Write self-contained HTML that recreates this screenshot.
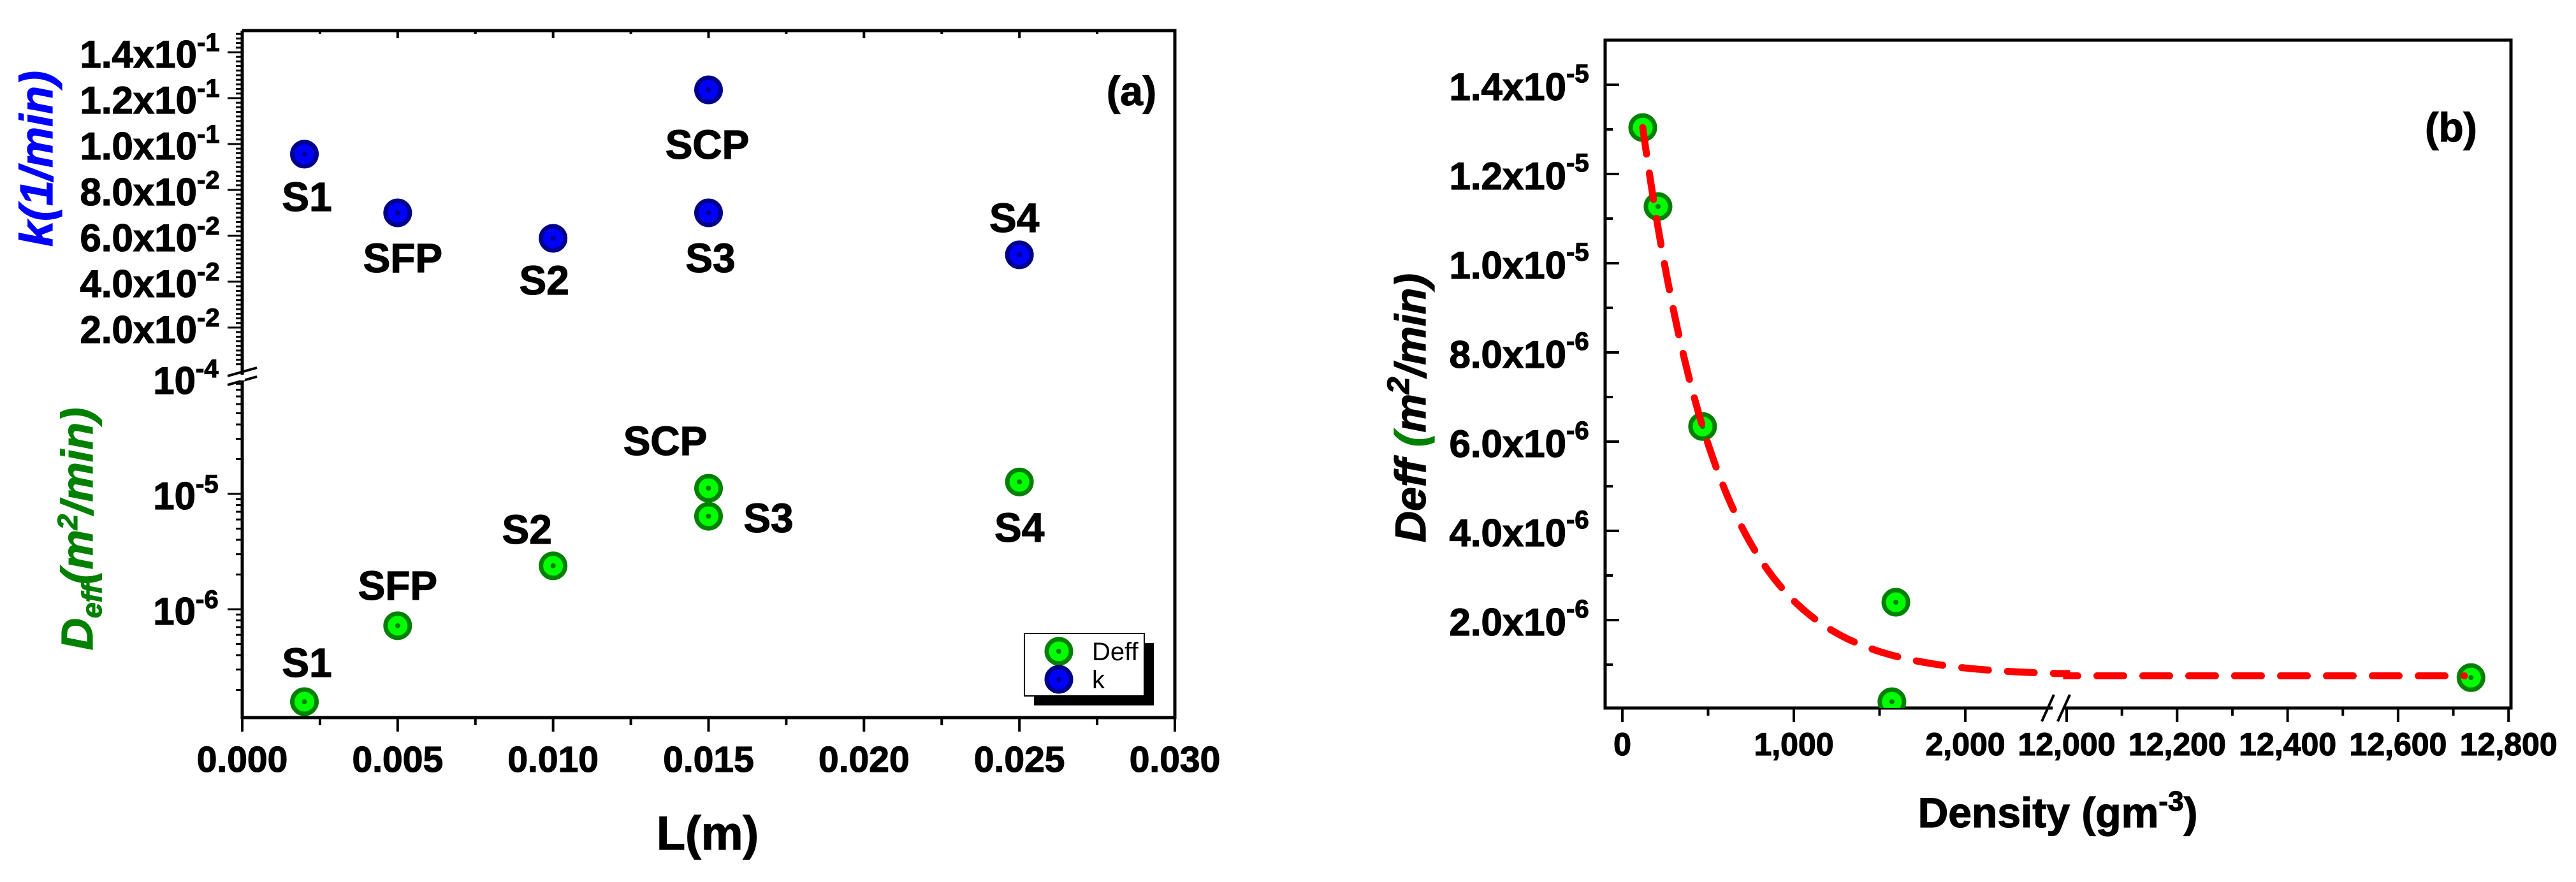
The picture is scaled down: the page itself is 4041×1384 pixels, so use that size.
<!DOCTYPE html>
<html><head><meta charset="utf-8"><style>
body{margin:0;background:#fff}
svg{display:block}
text{font-family:"Liberation Sans",sans-serif;font-weight:bold;fill:#000;stroke:#000;stroke-width:1.2}
</style></head><body>
<svg id="chart" width="4041" height="1384" viewBox="0 0 4041 1384" xmlns="http://www.w3.org/2000/svg">
<defs>
<clipPath id="clipB"><rect x="2518" y="63" width="1421" height="1048"/></clipPath>
</defs>
<g id="pa"></g>
<g id="pb"></g>
</svg>
<script>
// Panel (a) data
const aLengths = [0.002, 0.005, 0.010, 0.015, 0.015, 0.025];
const aSamples = ["S1", "SFP", "S2", "SCP", "S3", "S4"];
const aK = [0.0956, 0.070, 0.0589, 0.1236, 0.070, 0.0517];
const aDeff = [1.58e-7, 7.2e-7, 2.38e-6, 1.12e-5, 6.4e-6, 1.27e-5];
const aXTicks = [0, 0.005, 0.010, 0.015, 0.020, 0.025, 0.030];
const aXTickLabels = ["0.000", "0.005", "0.010", "0.015", "0.020", "0.025", "0.030"];
const aKTicks = [0.02, 0.04, 0.06, 0.08, 0.10, 0.12, 0.14];
const aKTickLabels = ["2.0x10", "4.0x10", "6.0x10", "8.0x10", "1.0x10", "1.2x10", "1.4x10"];
const aKTickExp = ["-2", "-2", "-2", "-2", "-1", "-1", "-1"];
const aDTicks = [1e-4, 1e-5, 1e-6];
const aDTickExp = ["-4", "-5", "-6"];
// label offsets (px) relative to marks
const aKLabelOff = [[4, 67], [8, 71], [-14, 66], [-2, 86], [3, 71], [-8, -58]];
const aDLabelOff = [[4, -61], [0, -63], [-41, -57], [-68, -74], [94, 3], [0, 72]];

// Panel (b) data
const bDensity = [119, 208, 468, 1595, 1572, 12732];
const bDeff = [13.04e-6, 11.27e-6, 6.34e-6, 2.4e-6, 0.17e-6, 0.71e-6];
const bXTicksLeft = [0, 1000, 2000];
const bXTicksRight = [12000, 12200, 12400, 12600, 12800];
const bXTickLabelsLeft = ["0", "1,000", "2,000"];
const bXTickLabelsRight = ["12,000", "12,200", "12,400", "12,600", "12,800"];
const bYTicks = [2e-6, 4e-6, 6e-6, 8e-6, 10e-6, 12e-6, 14e-6];
const bYTickLabels = ["2.0x10", "4.0x10", "6.0x10", "8.0x10", "1.0x10", "1.2x10", "1.4x10"];
const bYTickExp = ["-6", "-6", "-6", "-6", "-5", "-5", "-5"];
// exponential fit: offset, amplitude, decay, start, end (left), right segment end
const bFitParams = [0.75e-6, 12.29e-6, 443, 119, 2539, 12732];

const NS = "http://www.w3.org/2000/svg";
function mk(parent, tag, attrs, name) {
  const e = document.createElementNS(NS, tag);
  for (const k in attrs) e.setAttribute(k, attrs[k]);
  
  
  parent.appendChild(e);
  return e;
}
function txt(parent, x, y, s, size, name, anchor, extra, rot) {
  const tr = rot ? `translate(${x},${y}) rotate(-90)` : `translate(${x},${y})`;
  const t = mk(parent, 'text', Object.assign({x: 0, y: 0, transform: tr, 'font-size': size, 'text-anchor': anchor || 'middle'}, extra || {}), name);
  t.textContent = s;
  return t;
}
function marker(parent, cx, cy, green, name) {
  const g = mk(parent, 'g', {}, name);
  mk(g, 'circle', {cx: cx, cy: cy, r: 19, fill: green ? '#00ff00' : '#0000ff', stroke: green ? '#008000' : '#00008b', 'stroke-width': 7}, 'marker-ring');
  mk(g, 'circle', {cx: cx, cy: cy, r: 4, fill: green ? '#008000' : '#00008b'}, 'marker-center');
  return g;
}

// ---------- Panel A ----------
const pa = document.getElementById('pa');
const AL = 380, AR = 1843, AT = 48, AB = 1126;
const xa = v => AL + v / 0.03 * (AR - AL);
const yk = v => 586 - v * 3600;
const yd = v => 956 - (Math.log10(v) + 6) * 181;

mk(pa, 'path', {d: `M${AL},${AT} H${AR} V${AB} H${AL} V598 M${AL},588 V${AT}`, fill: 'none', stroke: '#000', 'stroke-width': 5}, 'axis-frame-a');
for (let i = 0; i <= 12; i++) {
  const v = i * 0.0025, x = xa(v), maj = i % 2 === 0;
  mk(pa, 'line', {x1: x, y1: AB, x2: x, y2: AB + (maj ? 22 : 12), stroke: '#000', 'stroke-width': 4}, 'x-tick-a');
  mk(pa, 'line', {x1: x, y1: AT, x2: x, y2: AT + (maj ? 12 : 5), stroke: '#000', 'stroke-width': 4}, 'x-tick-top-a');
}
aXTicks.forEach((v, i) => txt(pa, xa(v), 1211, aXTickLabels[i], 57, 'x-tick-label-a'));
txt(pa, 1110, 1333, 'L(m)', 74, 'x-axis-title-a');
for (let i = 2; i <= 75; i++) {
  const v = i * 0.002, y = yk(v), maj = i % 10 === 0;
  if (y < AT) continue;
  mk(pa, 'line', {x1: AL, y1: y, x2: AL - (maj ? 23 : 10), y2: y, stroke: '#000', 'stroke-width': 3}, 'k-tick');
}
aKTicks.forEach((v, i) => {
  txt(pa, 309, yk(v) + 24, aKTickLabels[i], 60, 'k-tick-label', 'end');
  txt(pa, 309, yk(v) - 2, aKTickExp[i], 40, 'k-tick-exponent', 'start');
});
for (let e = -7; e <= -4; e++) {
  for (let m = 1; m <= 9; m++) {
    const v = m * Math.pow(10, e), y = yd(v);
    if (y > AB || y < 600) continue;
    mk(pa, 'line', {x1: AL, y1: y, x2: AL - (m === 1 ? 23 : 10), y2: y, stroke: '#000', 'stroke-width': 3}, 'deff-tick');
  }
}
aDTicks.forEach((v, i) => {
  txt(pa, 307, yd(v) + 24, '10', 60, 'deff-tick-label', 'end');
  txt(pa, 307, yd(v) - 2, aDTickExp[i], 40, 'deff-tick-exponent', 'start');
});
mk(pa, 'path', {d: 'M357,590 L403,577 M357,604 L403,591', stroke: '#000', 'stroke-width': 4, fill: 'none'}, 'y-axis-break-a');
mk(pa, 'rect', {x: 377, y: 588, width: 7, height: 9, fill: '#fff'}, 'break-gap');
txt(pa, 82, 249, 'k(1/min)', 72, 'k-axis-title', 'middle', {'font-style': 'italic', style: 'fill:#0000ff;stroke:#0000ff'}, true);
const dt = txt(pa, 145, 830, '', 70, 'deff-axis-title', 'middle', {'font-style': 'italic', style: 'fill:#008000;stroke:#008000'}, true);
dt.innerHTML = 'D<tspan font-size="44" dy="14">eff</tspan><tspan dy="-14">(m</tspan><tspan font-size="44" dy="-24">2</tspan><tspan dy="24">/min)</tspan>';
aLengths.forEach((L, i) => {
  marker(pa, xa(L), yk(aK[i]), false, 'k-point-' + aSamples[i]);
  txt(pa, xa(L) + aKLabelOff[i][0], yk(aK[i]) + aKLabelOff[i][1] + 22, aSamples[i], 64, 'k-label-' + aSamples[i]);
  marker(pa, xa(L), yd(aDeff[i]), true, 'deff-point-' + aSamples[i]);
  txt(pa, xa(L) + aDLabelOff[i][0], yd(aDeff[i]) + aDLabelOff[i][1] + 22, aSamples[i], 64, 'deff-label-' + aSamples[i]);
});
txt(pa, 1775, 165, '(a)', 64, 'panel-label-a');
const lg = mk(pa, 'g', {}, 'legend');
mk(lg, 'rect', {x: 1622, y: 1009, width: 188, height: 98, fill: '#000'}, 'legend-shadow');
mk(lg, 'rect', {x: 1607, y: 994, width: 188, height: 98, fill: '#fff', stroke: '#000', 'stroke-width': 2}, 'legend-box');
marker(lg, 1661, 1022, true, 'legend-marker-deff');
marker(lg, 1661, 1066, false, 'legend-marker-k');
txt(lg, 1713, 1036, 'Deff', 40, 'legend-entry-deff', 'start', {style: 'font-weight:normal;stroke:none'});
txt(lg, 1713, 1080, 'k', 40, 'legend-entry-k', 'start', {style: 'font-weight:normal;stroke:none'});

// ---------- Panel B ----------
const pb = document.getElementById('pb');
const BL = 2518, BR = 3939, BT = 63, BB = 1111;
const xb = v => v <= 2600 ? 2545 + v * 0.269 : 3242 + (v - 12000) * 0.8665;
const yb = v => 1113 - v / 1e-6 * 70;
mk(pb, 'rect', {x: BL, y: BT, width: BR - BL, height: BB - BT, fill: 'none', stroke: '#000', 'stroke-width': 5}, 'axis-frame-b');
for (let i = 1; i <= 15; i++) {
  const y = yb(i * 1e-6), maj = i % 2 === 0;
  mk(pb, 'line', {x1: BL, y1: y, x2: BL + (maj ? 22 : 12), y2: y, stroke: '#000', 'stroke-width': 4}, 'y-tick-b');
}
bYTicks.forEach((v, i) => {
  txt(pb, 2457, yb(v) + 24, bYTickLabels[i], 60, 'y-tick-label-b', 'end');
  txt(pb, 2457, yb(v) - 4, bYTickExp[i], 40, 'y-tick-exponent-b', 'start');
});
for (let v = 0; v <= 2000; v += 500) {
  mk(pb, 'line', {x1: xb(v), y1: BB, x2: xb(v), y2: BB + (v % 1000 === 0 ? 22 : 12), stroke: '#000', 'stroke-width': 4}, 'x-tick-b');
}
for (let v = 12000; v <= 12800; v += 100) {
  mk(pb, 'line', {x1: xb(v), y1: BB, x2: xb(v), y2: BB + (v % 200 === 0 ? 22 : 12), stroke: '#000', 'stroke-width': 4}, 'x-tick-b');
}
bXTicksLeft.forEach((v, i) => txt(pb, xb(v), 1185, bXTickLabelsLeft[i], 50, 'x-tick-label-b'));
bXTicksRight.forEach((v, i) => txt(pb, xb(v), 1185, bXTickLabelsRight[i], 50, 'x-tick-label-b'));
mk(pb, 'rect', {x: 3220, y: 1100, width: 16, height: 22, fill: '#fff'}, 'break-gap-b');
mk(pb, 'path', {d: 'M3203,1132 L3222,1090 M3228,1132 L3247,1090', stroke: '#000', 'stroke-width': 4, fill: 'none'}, 'x-axis-break-b');
const xt = txt(pb, 3228, 1298, '', 66, 'x-axis-title-b');
xt.innerHTML = 'Density (gm<tspan font-size="44" dy="-26">-3</tspan><tspan dy="26">)</tspan>';
const yt = txt(pb, 2236, 640, '', 68, 'y-axis-title-b', 'middle', {'font-style': 'italic'}, true);
yt.innerHTML = 'Deff <tspan style="fill:#008000;stroke:#008000">(</tspan>m<tspan font-size="48" dy="-26">2</tspan><tspan dy="26">/min)</tspan>';
txt(pb, 3845, 222, '(b)', 64, 'panel-label-b');
let pts = [];
for (let x = bFitParams[3]; x <= bFitParams[4]; x += 10) {
  pts.push([xb(x), yb(bFitParams[0] + bFitParams[1] * Math.exp(-(x - bFitParams[3]) / bFitParams[2]))]);
}
pts.push([xb(12000), yb(bFitParams[0] + bFitParams[1] * Math.exp(-(bFitParams[4] - bFitParams[3]) / bFitParams[2]))]);
for (let x = 12000; x <= bFitParams[5]; x += 20) pts.push([xb(x), yb(bFitParams[0])]);
const gm = mk(pb, 'g', {'clip-path': 'url(#clipB)'}, 'points-b');
bDensity.forEach((d, i) => marker(gm, xb(d), yb(bDeff[i]), true, 'deff-point-b'));
mk(pb, 'path', {d: 'M' + pts.map(p => p[0].toFixed(1) + ',' + p[1].toFixed(1)).join(' L'), fill: 'none', stroke: '#ff0000', 'stroke-width': 11, 'stroke-dasharray': '42 30', 'stroke-linecap': 'round'}, 'fit-curve');
</script>
</body></html>
